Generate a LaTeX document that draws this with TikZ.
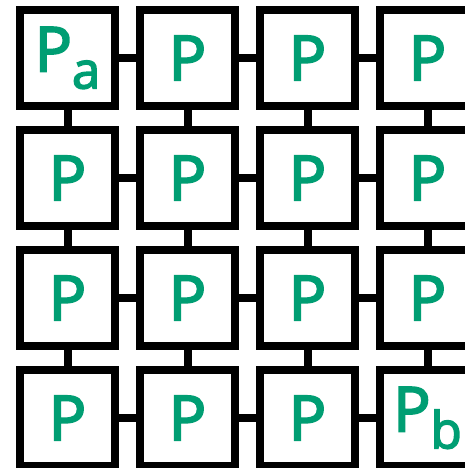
\documentclass[tikz,border=0pt]{standalone}
\usepackage{fontspec}
\setmainfont{Open Sans}
\newfontfamily\labfont[FakeBold=3]{Open Sans}
\definecolor{pgreen}{HTML}{009E73}
\newcommand{\lowsub}[1]{\raisebox{-17pt}{\fontsize{51}{51}\selectfont #1}}
\begin{document}
\begin{tikzpicture}[x=1pt,y=-1pt,
  cell/.style={draw=black,line width=8pt,fill=white,minimum size=95.5pt,inner sep=0pt,
    text=pgreen,font=\labfont\fontsize{62}{62}\selectfont},
  link/.style={draw=black,line width=8pt}]
\useasboundingbox (0,0) rectangle (465,468);
\clip (0,0) rectangle (465,468);
\foreach \i in {0,...,3}{
  \foreach \j in {0,...,3}{
    \def\lab{P}
    \ifnum\i=0 \ifnum\j=0 \def\lab{P\lowsub{a}}\fi\fi
    \ifnum\i=3 \ifnum\j=3 \def\lab{P\lowsub{b}}\fi\fi
    \node[cell] (c\i\j) at ({67.5+120*\i},{58+120*\j}) {\lab};
  }
}
\foreach \i [evaluate=\i as \n using int(\i+1)] in {0,1,2}{
  \foreach \j in {0,...,3}{
    \draw[link] (c\i\j.east) -- (c\n\j.west);
    \draw[link] (c\j\i.south) -- (c\j\n.north);
  }
}
\end{tikzpicture}
\end{document}
